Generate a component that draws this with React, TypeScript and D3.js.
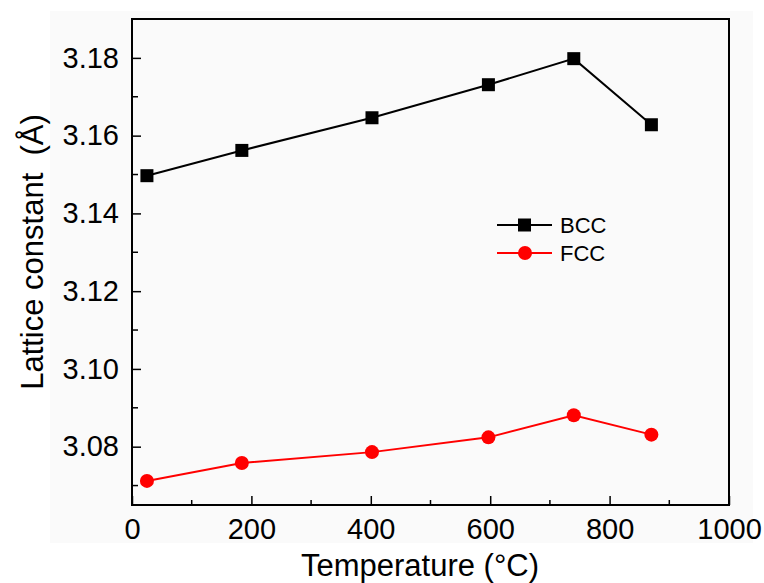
import React, { useEffect, useRef } from 'react';
import * as d3 from 'd3';

// temperatures (°C) and lattice constants (Å)
const bccTemp = [25, 184, 402, 597, 740, 870];
const bccValues = [3.1497, 3.1562, 3.1646, 3.1731, 3.1798, 3.1628];
const fccTemp = [25, 184, 402, 597, 740, 870];
const fccValues = [3.0712, 3.0758, 3.0786, 3.0824, 3.0881, 3.0831];

const xTicks = [0, 200, 400, 600, 800, 1000];
const yTicks = [3.08, 3.10, 3.12, 3.14, 3.16, 3.18];

const App = () => {
  const ref = useRef<SVGSVGElement>(null);

  useEffect(() => {
    const svg = d3.select(ref.current);
    svg.selectAll('*').remove();

    const margin = { top: 19, right: 35, bottom: 78, left: 132 };
    const W = 764, H = 583;
    const width = W - margin.left - margin.right;
    const height = H - margin.top - margin.bottom;
    const font = 'Liberation Sans, Arial, sans-serif';

    // light grey figure backdrop
    svg.append('rect')
      .attr('x', 50).attr('y', 11)
      .attr('width', 703).attr('height', 532)
      .attr('fill', '#fafafa');

    const g = svg.append('g').attr('transform', `translate(${margin.left},${margin.top})`);

    const x = d3.scaleLinear().domain([0, 1000]).range([0, width]);
    const y = d3.scaleLinear().domain([3.065, 3.19]).range([height, 0]);

    // minor ticks
    const minorX = d3.range(100, 1000, 200);
    const minorY = d3.range(3.07, 3.19, 0.02);
    g.selectAll('.mx').data(minorX).enter().append('line')
      .attr('x1', d => x(d)).attr('x2', d => x(d))
      .attr('y1', height).attr('y2', height - 5)
      .attr('stroke', '#000').attr('stroke-width', 1.5);
    g.selectAll('.my').data(minorY).enter().append('line')
      .attr('y1', d => y(d)).attr('y2', d => y(d))
      .attr('x1', 0).attr('x2', 6)
      .attr('stroke', '#000').attr('stroke-width', 1.5);

    // axes with inward ticks
    const xAxis = g.append('g')
      .attr('transform', `translate(0,${height})`)
      .call(d3.axisBottom(x).tickValues(xTicks).tickFormat(d3.format('d')).tickSizeInner(-9).tickSizeOuter(0).tickPadding(13));
    const yAxis = g.append('g')
      .call(d3.axisLeft(y).tickValues(yTicks).tickFormat(d3.format('.2f')).tickSizeInner(-9).tickSizeOuter(0).tickPadding(13));
    [xAxis, yAxis].forEach(a => {
      a.select('.domain').remove();
      a.selectAll('line').attr('stroke-width', 1.5);
      a.selectAll('text').attr('font-family', font).attr('font-size', 29).attr('fill', '#000');
    });
    xAxis.selectAll('text').attr('dy', '0.71em');

    // frame
    g.append('rect')
      .attr('width', width).attr('height', height)
      .attr('fill', 'none').attr('stroke', '#000').attr('stroke-width', 2);

    const line = d3.line<[number, number]>().x(d => x(d[0])).y(d => y(d[1]));
    const bcc: [number, number][] = bccTemp.map((t, i) => [t, bccValues[i]]);
    const fcc: [number, number][] = fccTemp.map((t, i) => [t, fccValues[i]]);

    g.append('path').datum(bcc).attr('d', line).attr('fill', 'none').attr('stroke', '#000').attr('stroke-width', 2);
    g.selectAll('.sq').data(bcc).enter().append('rect')
      .attr('x', d => x(d[0]) - 6.5).attr('y', d => y(d[1]) - 6.5)
      .attr('width', 13).attr('height', 13).attr('fill', '#000');

    g.append('path').datum(fcc).attr('d', line).attr('fill', 'none').attr('stroke', '#ff0000').attr('stroke-width', 2);
    g.selectAll('.ci').data(fcc).enter().append('circle')
      .attr('cx', d => x(d[0])).attr('cy', d => y(d[1])).attr('r', 7).attr('fill', '#ff0000');

    // legend
    const legend = [
      { name: 'BCC', color: '#000', shape: 'square' },
      { name: 'FCC', color: '#ff0000', shape: 'circle' },
    ];
    const lg = svg.append('g').attr('transform', 'translate(497,225)');
    legend.forEach((l, i) => {
      const row = lg.append('g').attr('transform', `translate(0,${i * 28})`);
      row.append('line').attr('x1', 0).attr('x2', 55).attr('stroke', l.color).attr('stroke-width', 2);
      if (l.shape === 'square') {
        row.append('rect').attr('x', 21).attr('y', -6.5).attr('width', 13).attr('height', 13).attr('fill', l.color);
      } else {
        row.append('circle').attr('cx', 28).attr('r', 7).attr('fill', l.color);
      }
      row.append('text').attr('x', 63).attr('y', 8)
        .attr('font-family', font).attr('font-size', 22).attr('fill', '#000').text(l.name);
    });

    // axis titles
    svg.append('text')
      .attr('x', 420).attr('y', 576)
      .attr('text-anchor', 'middle')
      .attr('font-family', font).attr('font-size', 31).attr('fill', '#000')
      .text('Temperature (°C)');
    svg.append('text')
      .attr('transform', 'translate(43,252) rotate(-90)')
      .attr('text-anchor', 'middle')
      .attr('font-family', font).attr('font-size', 31).attr('fill', '#000')
      .style('white-space', 'pre')
      .text('Lattice constant  (Å)');
  }, []);

  return (
    <div style={{ position: 'absolute', left: 0, top: 0 }}>
      <svg ref={ref} width={764} height={583} style={{ display: 'block', background: '#fff' }} />
    </div>
  );
};

export default App;
